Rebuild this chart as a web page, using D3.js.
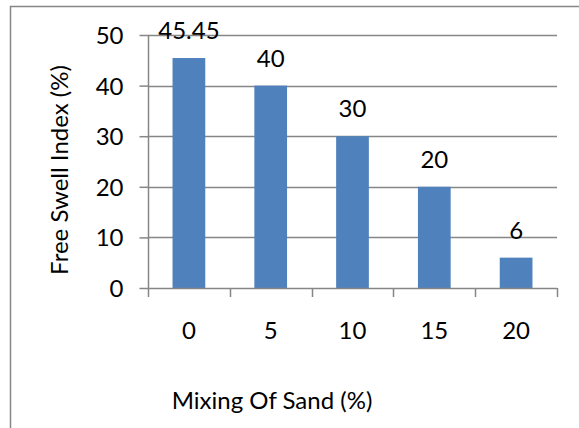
<!DOCTYPE html>
<html>
<head>
<meta charset="utf-8">
<script src="https://cdn.jsdelivr.net/npm/d3@7"></script>
<style>
  html, body { margin: 0; padding: 0; background: #fff; }
  svg { display: block; }
  text { font-family: "Lato", "Liberation Sans", sans-serif; fill: #000; }
</style>
</head>
<body>
<svg id="chart" width="579" height="428"></svg>
<script>
// Free swell index for each sand content
const categories = ["0", "5", "10", "15", "20"];
const swellValues = [45.45, 40, 30, 20, 6];
const yTicks = [0, 10, 20, 30, 40, 50];
const xTitle = "Mixing Of Sand (%)";
const yTitle = "Free Swell Index (%)";

const svg = d3.select("#chart");
const W = 579, H = 428;
const plot = { left: 148, right: 557, top: 35, bottom: 288 };
const fontSize = 24;
const gridColor = "#868686";
const barColor = "#4F81BD";

// outer chart frame (continues past the right and bottom edges)
svg.append("rect")
  .attr("x", 10.5).attr("y", 6.5)
  .attr("width", W + 20).attr("height", H + 20)
  .attr("fill", "#fff")
  .attr("stroke", gridColor).attr("stroke-width", 1.5);

const x = d3.scaleBand()
  .domain(categories)
  .range([plot.left, plot.right])
  .paddingInner(0.6)
  .paddingOuter(0.3);

const xCat = d3.scaleBand()
  .domain(categories)
  .range([plot.left, plot.right]);

const y = d3.scaleLinear()
  .domain([0, 50])
  .range([plot.bottom, plot.top]);

// horizontal gridlines
svg.append("g")
  .selectAll("line")
  .data(yTicks.filter(d => d > 0))
  .join("line")
  .attr("x1", plot.left).attr("x2", plot.right)
  .attr("y1", d => Math.round(y(d)) + 0.5)
  .attr("y2", d => Math.round(y(d)) + 0.5)
  .attr("stroke", gridColor).attr("stroke-width", 1.5);

// bars
svg.append("g")
  .selectAll("rect")
  .data(swellValues)
  .join("rect")
  .attr("x", (d, i) => x(categories[i]))
  .attr("width", x.bandwidth())
  .attr("y", d => y(d))
  .attr("height", d => y(0) - y(d))
  .attr("fill", barColor);

// value labels above bars
svg.append("g")
  .selectAll("text")
  .data(swellValues)
  .join("text")
  .attr("x", (d, i) => x(categories[i]) + x.bandwidth() / 2)
  .attr("y", d => y(d) - 19)
  .attr("text-anchor", "middle")
  .attr("font-size", fontSize)
  .text(d => d);

// y axis
const yAxis = svg.append("g")
  .attr("transform", `translate(${plot.left + 0.5},0)`)
  .call(d3.axisLeft(y).tickValues(yTicks).tickSize(9).tickPadding(16).tickFormat(d3.format("d")));
yAxis.select(".domain").attr("stroke", gridColor).attr("stroke-width", 1.5).attr("d", `M0,${plot.top}V${plot.bottom}`);
yAxis.selectAll(".tick line").attr("stroke", gridColor).attr("stroke-width", 1.5);
yAxis.selectAll(".tick text")
  .attr("font-size", fontSize)
  .attr("font-family", null)
  .attr("dy", "0.35em");

// x axis: ticks on category boundaries
const boundaries = categories.map(c => xCat(c)).concat([plot.right]);
const xAxisG = svg.append("g");
xAxisG.append("line")
  .attr("x1", plot.left).attr("x2", plot.right)
  .attr("y1", plot.bottom + 0.5).attr("y2", plot.bottom + 0.5)
  .attr("stroke", gridColor).attr("stroke-width", 1.5);
xAxisG.selectAll("line.tick")
  .data(boundaries)
  .join("line")
  .attr("class", "tick")
  .attr("x1", d => Math.round(d) + 0.5).attr("x2", d => Math.round(d) + 0.5)
  .attr("y1", plot.bottom).attr("y2", plot.bottom + 9)
  .attr("stroke", gridColor).attr("stroke-width", 1.5);
xAxisG.selectAll("text")
  .data(categories)
  .join("text")
  .attr("x", d => xCat(d) + xCat.bandwidth() / 2)
  .attr("y", 339)
  .attr("text-anchor", "middle")
  .attr("font-size", fontSize)
  .text(d => d);

// axis titles
svg.append("text")
  .attr("x", 272).attr("y", 409)
  .attr("text-anchor", "middle")
  .attr("font-size", fontSize)
  .text(xTitle);

svg.append("text")
  .attr("transform", "translate(68,170) rotate(-90)")
  .attr("text-anchor", "middle")
  .attr("font-size", fontSize)
  .text(yTitle);
</script>
</body>
</html>
